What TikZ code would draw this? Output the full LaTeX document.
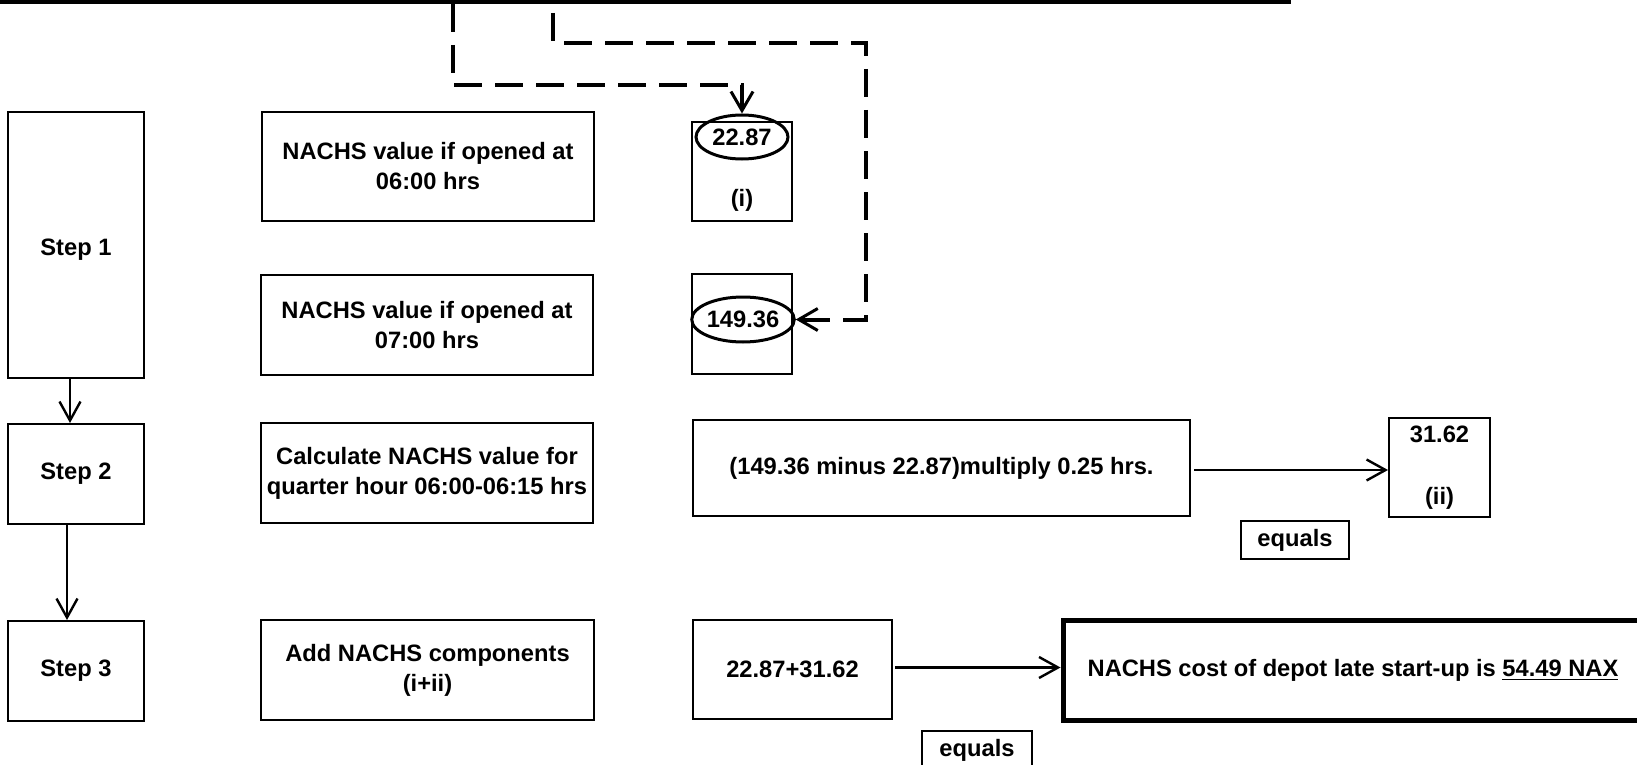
\documentclass[tikz,border=0pt]{standalone}
\usepackage{fontspec}
\setmainfont{Liberation Sans}
\usetikzlibrary{arrows.meta,shapes.geometric}
\begin{document}
\begin{tikzpicture}[x=0.5pt,y=-0.5pt,
  txt/.style={font=\fontsize{11.85pt}{15pt}\selectfont\bfseries, align=center, inner sep=0pt},
  box/.style 2 args={txt, draw, line width=1pt, minimum width=#1, minimum height=#2},
  oval/.style={txt, draw, ellipse, line width=1.5pt, minimum width=46pt, minimum height=22pt},
  tip/.style={-{Straight Barb[length=9.5pt,width=10.5pt,line width=1.2pt]}},
  arr/.style={tip, line width=1.2pt},
  dashline/.style={line width=2pt, dash pattern=on 14pt off 6.5pt,
    -{Straight Barb[length=9.5pt,width=11pt,line width=1.5pt]}}]
\useasboundingbox (0,0) rectangle (1637,765);
\clip (0,0) rectangle (1637,765);

% header rule
\fill (0,0) rectangle (1291,4.5);
\coordinate (a0) at (453,4);
\coordinate (b0) at (553,13);

% step column
\node[box={68pt}{133pt}] (s1) at (76,245) {};
\node[txt] (s1t) at (76,250) {Step 1};
\node[box={68pt}{50pt}]  (s2) at (76,474) {Step 2};
\node[box={68pt}{50pt}]  (s3) at (76,671) {Step 3};

% descriptions
\node[box={166pt}{54.5pt}] (m1) at (428,166.5) {NACHS value if opened at\\06:00 hrs};
\node[box={166pt}{50pt}]   (m2) at (427,325) {NACHS value if opened at\\07:00 hrs};
\node[box={166pt}{50pt}]   (m3) at (427,473) {Calculate NACHS value for\\quarter hour 06:00-06:15 hrs};
\node[box={166.5pt}{50pt}] (m4) at (427.5,670) {Add NACHS components\\(i+ii)};

% values from step 1
\node[box={50pt}{49.5pt}] (bi) at (742,171.5) {};
\node[oval] (e1) at (742,137) {22.87};
\node[txt] (li) at (742,200) {(i)};
\node[box={50pt}{50pt}] (bv) at (742,324) {};
\node[oval, minimum height=22.5pt] (e2) at (743,319.5) {149.36};

% step 2 calculation
\node[box={248.5pt}{48pt}] (calc) at (941.5,468) {(149.36 minus 22.87)multiply 0.25 hrs.};
\node[box={50.5pt}{49.5pt}] (r2) at (1439.5,467.5) {31.62\\[16pt](ii)};
\node[box={54pt}{19pt}] (eq1) at (1295,540) {equals};

% step 3 calculation
\node[box={293.5pt}{50pt}, line width=2.5pt] (res) at (1356.5,670) {};
\node[txt] (rest) at (1353,670) {NACHS cost of depot late start-up is \underline{54.49 NAX}};
\node[box={99.5pt}{49.5pt}] (sum) at (792.5,669.5) {22.87+31.62};
\node[box={55pt}{19pt}] (eq2) at (977,750) {equals};

% connectors
\draw[arr] ([xshift=-3pt]s1.south) -- ([xshift=-3pt]s2.north);
\draw[arr] ([xshift=-4.5pt]s2.south) -- ([xshift=-4.5pt]s3.north);
\draw[arr] ([xshift=1.5pt,yshift=-1pt]calc.east) -- ([yshift=-1pt]calc.east -| r2.west);
\draw[arr] ([xshift=1pt,yshift=1pt]sum.east) -- ([yshift=1pt]sum.east -| res.west);

\draw[dashline] (a0) -- (453,85) -| (e1.north);
\draw[dashline] (b0) |- (866,43) |- (e2.east);
\end{tikzpicture}
\end{document}
